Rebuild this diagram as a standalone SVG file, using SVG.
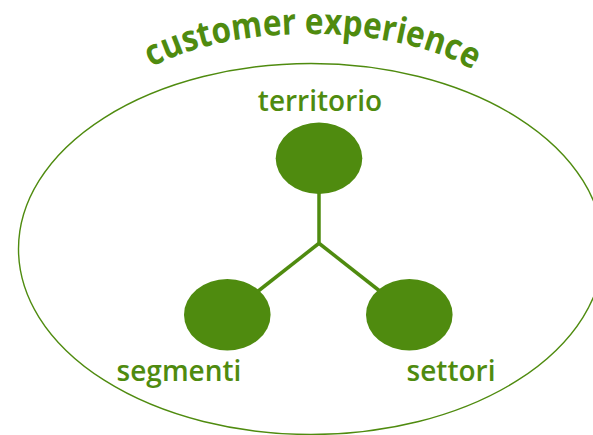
<svg xmlns="http://www.w3.org/2000/svg" width="593" height="435" viewBox="0 0 593 435">
  <style>
    .frame { fill: none; stroke: #4f8b0f; stroke-width: 1.4; }
    .node { fill: #4f8b0f; }
    .link { stroke: #4f8b0f; stroke-width: 3.5; fill: none; stroke-linecap: butt; }
    .label { font-family: "Open Sans", "Liberation Sans", sans-serif; font-weight: 600; font-size: 28px; fill: #4f8b0f; }
    .title { font-family: "Open Sans", "Liberation Sans", sans-serif; font-weight: 700; font-size: 36px; fill: #4f8b0f; }
  </style>
  <defs>
    <path id="titleArc" d="M 150 68.4 A 200 86 0 0 1 478 73.3"/>
  </defs>
  <rect width="593" height="435" fill="#ffffff"/>

  <!-- outer boundary -->
  <ellipse class="frame" cx="311" cy="249" rx="292.5" ry="185.5"/>

  <!-- arched title -->
  <text class="title"><textPath href="#titleArc" startOffset="2" textLength="332" lengthAdjust="spacingAndGlyphs">customer experience</textPath></text>

  <!-- connectors -->
  <g id="connectors">
    <line class="link" x1="319" y1="190" x2="319" y2="242.5"/>
    <line class="link" x1="320" y1="242.5" x2="257" y2="292"/>
    <line class="link" x1="318" y1="242.5" x2="381" y2="292"/>
  </g>

  <g id="territorio">
    <ellipse class="node" cx="319" cy="158.3" rx="43.3" ry="35.7"/>
    <text class="label" x="320" y="110.5" text-anchor="middle">territorio</text>
  </g>

  <g id="segmenti">
    <ellipse class="node" cx="227.3" cy="314.8" rx="43.3" ry="35.8"/>
    <text class="label" x="179" y="380.7" text-anchor="middle">segmenti</text>
  </g>

  <g id="settori">
    <ellipse class="node" cx="409.3" cy="314.8" rx="43.3" ry="35.8"/>
    <text class="label" x="451" y="380.7" text-anchor="middle">settori</text>
  </g>
</svg>
